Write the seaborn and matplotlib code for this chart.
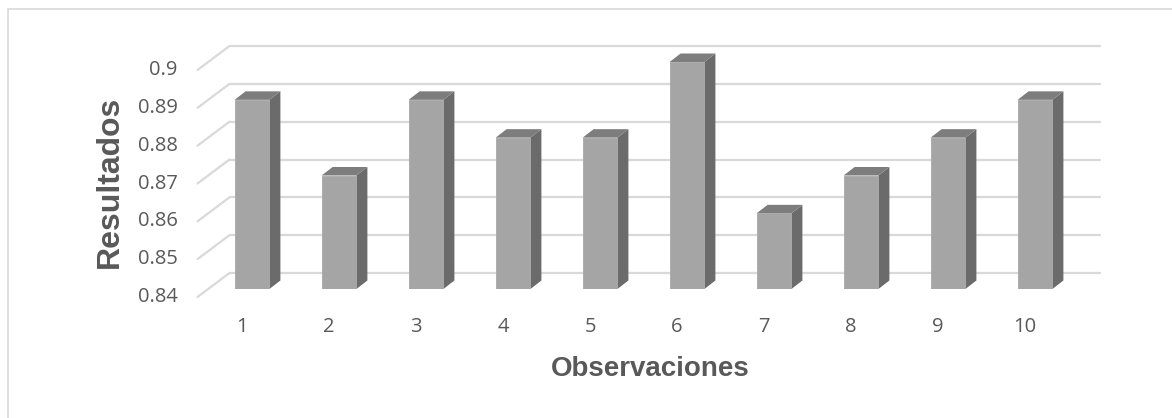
import matplotlib
matplotlib.use("Agg")
import matplotlib.pyplot as plt
import matplotlib.transforms as mtransforms
from matplotlib.patches import Polygon, Rectangle
from matplotlib.lines import Line2D
import seaborn as sns
import pandas as pd

# Data
observaciones = ["1", "2", "3", "4", "5", "6", "7", "8", "9", "10"]
resultados = [0.89, 0.87, 0.89, 0.88, 0.88, 0.90, 0.86, 0.87, 0.88, 0.89]
y_ticks = [0.84, 0.85, 0.86, 0.87, 0.88, 0.89, 0.90]
y_tick_labels = ["0.84", "0.85", "0.86", "0.87", "0.88", "0.89", "0.9"]

sns.set_style("white")
plt.rcParams["font.family"] = ["Open Sans", "DejaVu Sans"]

W, H, DPI = 1172, 418, 100
fig = plt.figure(figsize=(W / DPI, H / DPI), dpi=DPI)

# plot plane in pixels (the plane in which the bar fronts stand)
ax_left, ax_right = 208.5, 1078.5
ax_top, ax_bottom = 62.0, 289.0
ax = fig.add_axes([ax_left / W, 1 - ax_bottom / H,
                   (ax_right - ax_left) / W, (ax_bottom - ax_top) / H])

df = pd.DataFrame({"Observaciones": observaciones, "Resultados": resultados})
sns.barplot(data=df, x="Observaciones", y="Resultados", color="#a5a5a5",
            width=0.40, saturation=1, ax=ax, zorder=3,
            edgecolor="#a8a8a8", linewidth=0.6)

ax.set_xlim(-0.5, len(observaciones) - 0.5)
ax.set_ylim(y_ticks[0], y_ticks[-1])
for s in ax.spines.values():
    s.set_visible(False)
ax.set_facecolor("none")
ax.set_xlabel("")
ax.set_ylabel("")

# pixel -> data conversions for the 3D offsets
px_x = (ax_right - ax_left) / (len(observaciones))
px_y = (ax_bottom - ax_top) / (y_ticks[-1] - y_ticks[0])

def dx(p):
    return p / px_x

def dy(p):
    return p / px_y

grid_col = "#d9d9d9"
x0, x1 = ax.get_xlim()
back_dx, back_dy = 21, 16     # back wall offset (px, right / up)
front_dx, front_dy = -11, -8  # front edge offset (px)

for v in y_ticks:
    ax.add_line(Line2D([x0 + dx(back_dx), x1 + dx(back_dx)],
                       [v + dy(back_dy), v + dy(back_dy)],
                       color=grid_col, lw=1.6, zorder=0, clip_on=False))
    ax.add_line(Line2D([x0 + dx(front_dx), x0 + dx(back_dx)],
                       [v + dy(front_dy), v + dy(back_dy)],
                       color=grid_col, lw=1.6, zorder=0, clip_on=False))

# depth faces of the columns
depth_dx, depth_dy = 11, 8.5
base = y_ticks[0]
for p in ax.patches:
    bx0 = p.get_x()
    bx1 = bx0 + p.get_width()
    top = p.get_height()
    side = Polygon([(bx1, base), (bx1, top),
                    (bx1 + dx(depth_dx), top + dy(depth_dy)),
                    (bx1 + dx(depth_dx), base + dy(depth_dy))],
                   closed=True, facecolor="#6b6b6b", edgecolor="none",
                   zorder=2.5, clip_on=False)
    cap = Polygon([(bx0, top), (bx1, top),
                   (bx1 + dx(depth_dx), top + dy(depth_dy)),
                   (bx0 + dx(depth_dx), top + dy(depth_dy))],
                  closed=True, facecolor="#7d7d7d", edgecolor="none",
                  zorder=2.5, clip_on=False)
    ax.add_patch(side)
    ax.add_patch(cap)
    p.set_clip_on(True)

# tick labels
text_col = "#595959"
ax.set_yticks([])
ax.tick_params(axis="x", length=0, pad=20, labelsize=14.5, labelcolor=text_col)
shift = mtransforms.ScaledTranslation(-10 / DPI, 0, fig.dpi_scale_trans)
for lab in ax.get_xticklabels():
    lab.set_transform(lab.get_transform() + shift)

for v, lab in zip(y_ticks, y_tick_labels):
    ax.text(x0 + dx(front_dx - 20), v + dy(front_dy), lab,
            ha="right", va="center", fontsize=14.5, color=text_col,
            clip_on=False)

# axis titles
fig.text(110 / W, 1 - 182 / H, "Resultados", rotation=90, ha="center",
         va="center", fontsize=23, fontweight="bold", color=text_col,
         family=["Liberation Sans", "DejaVu Sans"])
fig.text(650 / W, 1 - 369 / H, "Observaciones", ha="center", va="center",
         fontsize=20, fontweight="bold", color=text_col,
         family=["Liberation Sans", "DejaVu Sans"])

# chart frame
fig.patches.append(Rectangle((8 / W, -0.1), 1.2, 1 - 9 / H + 0.1,
                             transform=fig.transFigure, fill=False,
                             edgecolor="#d9d9d9", lw=1.2))

fig.savefig("out.png", dpi=DPI)
